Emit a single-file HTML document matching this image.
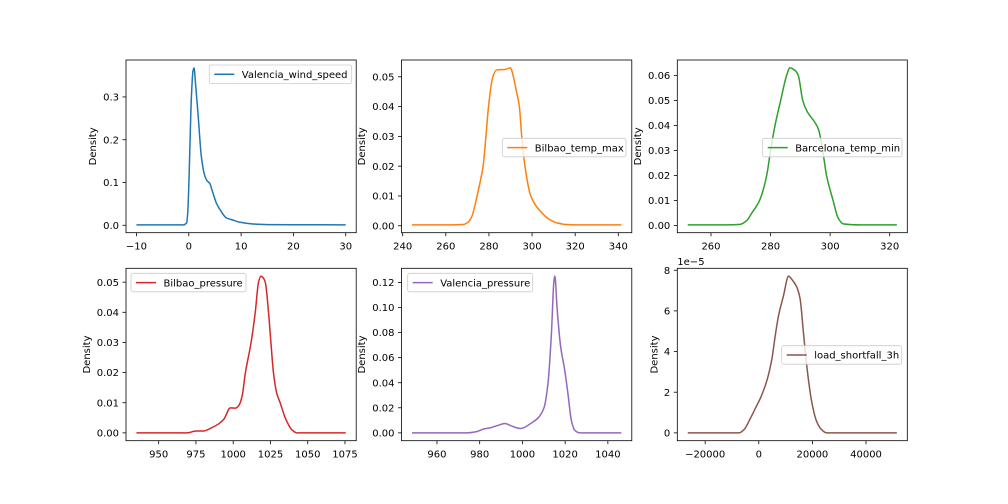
<!DOCTYPE html>
<html><head><meta charset="utf-8">
<style>
html,body{margin:0;padding:0;background:#fff;}
svg{display:block;font-family:"DejaVu Sans","Liberation Sans",sans-serif;}
</style></head>
<body>
<svg id="fig" width="1008" height="504" viewBox="0 0 1008 504" xmlns="http://www.w3.org/2000/svg"></svg>
<script>
// ---- data ----
const windX = [-10,-1,-0.4,-0.2,0,0.2,0.5,0.8,1,1.3,1.8,2.4,3,3.5,4,4.5,5.3,6,7.2,8.5,9.8,12.3,15,20,30];
const windY = [0.001,0.001,0.006,0.03,0.09,0.177,0.3,0.36,0.368,0.33,0.255,0.161,0.118,0.104,0.098,0.08,0.051,0.036,0.017,0.012,0.007,0.003,0.0015,0.0012,0.001];
const btmX = [244.3,262,268,270,272,274.5,276,277.3,278.6,279.8,281.8,283.5,285,287,289,290,291,292.5,294.1,295.2,296.7,299.4,303.7,308.3,311.4,316,320,341.4];
const btmY = [0.0003,0.0003,0.0004,0.001,0.003,0.01,0.015,0.02,0.03,0.04,0.05,0.0523,0.0524,0.0524,0.0528,0.053,0.051,0.046,0.04,0.03,0.02,0.01,0.005,0.002,0.001,0.0004,0.0003,0.0003];
const bcnX = [252.2,265,269.8,272,273.7,276.3,278.7,280,281.5,283.4,285.4,286.5,288.2,289.3,290.8,292.1,295.5,296.2,297.5,298.8,301,302.7,304.4,310,322.4];
const bcnY = [0.0003,0.0003,0.0005,0.002,0.005,0.01,0.02,0.03,0.04,0.05,0.06,0.063,0.062,0.06,0.05,0.046,0.04,0.038,0.03,0.02,0.01,0.003,0.0007,0.0003,0.0003];
const bprX = [935.1,960,969.2,975,980,984.8,990.3,993.7,998.1,1001.5,1003.7,1005.9,1008.2,1012,1014.8,1017,1018.6,1020,1021.5,1023.7,1025.3,1027,1029.3,1031.5,1034.9,1039.4,1042.7,1075.5];
const bprY = [0,0,0,0.0006,0.0006,0.0015,0.003,0.0045,0.0083,0.0082,0.009,0.012,0.02,0.03,0.04,0.05,0.052,0.0515,0.05,0.04,0.03,0.02,0.013,0.01,0.005,0.001,0,0];
const vprX = [948.3,965,974,978.6,981.7,984.8,988.7,991.8,994.2,996.5,999,1000.4,1004.3,1007.4,1010.1,1012,1013.6,1014.7,1015.2,1016.2,1017.8,1019.8,1021.4,1022.9,1024.5,1026.8,1046.3];
const vprY = [0,0,0,0.001,0.003,0.004,0.006,0.0075,0.006,0.0045,0.0035,0.004,0.008,0.012,0.02,0.04,0.08,0.12,0.125,0.1,0.07,0.05,0.03,0.01,0.002,0,0];
// load_shortfall_3h values in units of 1e-5
const loadX = [-26500,-10000,-7400,-5500,-3070,-1230,615,3080,4930,6160,7390,9240,11090,12320,14170,15400,16630,17860,19710,21560,23410,25250,35000,51500];
const loadY = [0,0,0,0.16,0.73,1.22,1.71,2.6,3.67,4.8,5.78,6.76,7.71,7.55,7.17,6.6,4.97,3.34,1.55,0.57,0.16,0,0,0];
const ticksX1 = [-10,0,10,20,30];              const ticksY1 = [0,0.1,0.2,0.3];
const labX1 = ["−10","0","10","20","30"];       const labY1 = ["0.0","0.1","0.2","0.3"];
const ticksX2 = [240,260,280,300,320,340];      const ticksY2 = [0,0.01,0.02,0.03,0.04,0.05];
const labX2 = ["240","260","280","300","320","340"]; const labY2 = ["0.00","0.01","0.02","0.03","0.04","0.05"];
const ticksX3 = [260,280,300,320];              const ticksY3 = [0,0.01,0.02,0.03,0.04,0.05,0.06];
const labX3 = ["260","280","300","320"];        const labY3 = ["0.00","0.01","0.02","0.03","0.04","0.05","0.06"];
const ticksX4 = [950,975,1000,1025,1050,1075];  const ticksY4 = [0,0.01,0.02,0.03,0.04,0.05];
const labX4 = ["950","975","1000","1025","1050","1075"]; const labY4 = ["0.00","0.01","0.02","0.03","0.04","0.05"];
const ticksX5 = [960,980,1000,1020,1040];       const ticksY5 = [0,0.02,0.04,0.06,0.08,0.10,0.12];
const labX5 = ["960","980","1000","1020","1040"]; const labY5 = ["0.00","0.02","0.04","0.06","0.08","0.10","0.12"];
const ticksX6 = [-20000,0,20000,40000];         const ticksY6 = [0,2,4,6,8];
const labX6 = ["−20000","0","20000","40000"];   const labY6 = ["0","2","4","6","8"];

const NS = "http://www.w3.org/2000/svg";
const fig = document.getElementById('fig');
function mk(tag, attrs, parent){ const e=document.createElementNS(NS,tag); for(const k in attrs) e.setAttribute(k,attrs[k]); (parent||fig).appendChild(e); return e; }

// monotone cubic (Fritsch–Carlson) path through pixel points
function monoPath(px, py){
  const n=px.length, d=[], m=new Array(n);
  for(let i=0;i<n-1;i++) d.push((py[i+1]-py[i])/(px[i+1]-px[i]));
  m[0]=d[0]; m[n-1]=d[n-2];
  for(let i=1;i<n-1;i++){
    if(d[i-1]*d[i]<=0) m[i]=0;
    else { const w1=2*(px[i+1]-px[i])+(px[i]-px[i-1]), w2=(px[i+1]-px[i])+2*(px[i]-px[i-1]);
      m[i]=(w1+w2)/(w1/d[i-1]+w2/d[i]); }
  }
  let s='M'+px[0].toFixed(2)+','+py[0].toFixed(2);
  for(let i=0;i<n-1;i++){
    const h=(px[i+1]-px[i])/3;
    s+=' C'+(px[i]+h).toFixed(2)+','+(py[i]+m[i]*h).toFixed(2)+' '+(px[i+1]-h).toFixed(2)+','+(py[i+1]-m[i+1]*h).toFixed(2)+' '+px[i+1].toFixed(2)+','+py[i+1].toFixed(2);
  }
  return s;
}

const panels = [
 {name:"valencia-wind-speed", X:windX, Y:windY, color:"#1f77b4", L:126, R:356.2, T:60, B:232.7, tx:ticksX1, ty:ticksY1, lx:labX1, ly:labY1, ylab:93.3, leg:[209.3,65,142.4], label:"Valencia_wind_speed"},
 {name:"bilbao-temp-max", X:btmX, Y:btmY, color:"#ff7f0e", L:401.5, R:631.8, T:60, B:232.7, tx:ticksX2, ty:ticksY2, lx:labX2, ly:labY2, ylab:362.3, leg:[502.3,138.3,123.7], label:"Bilbao_temp_max"},
 {name:"barcelona-temp-min", X:bcnX, Y:bcnY, color:"#2ca02c", L:677.3, R:907.3, T:60, B:232.7, tx:ticksX3, ty:ticksY3, lx:labX3, ly:labY3, ylab:638.3, leg:[762.7,138.3,139.3], label:"Barcelona_temp_min"},
 {name:"bilbao-pressure", X:bprX, Y:bprY, color:"#d62728", L:126, R:356.2, T:268.3, B:440.7, tx:ticksX4, ty:ticksY4, lx:labX4, ly:labY4, ylab:87.3, leg:[131,273.3,115], label:"Bilbao_pressure"},
 {name:"valencia-pressure", X:vprX, Y:vprY, color:"#9467bd", L:401.5, R:631.8, T:268.3, B:440.7, tx:ticksX5, ty:ticksY5, lx:labX5, ly:labY5, ylab:362.3, leg:[407.7,273.3,125], label:"Valencia_pressure"},
 {name:"load-shortfall-3h", X:loadX, Y:loadY, color:"#8c564b", L:677.3, R:907.3, T:268.3, B:440.7, tx:ticksX6, ty:ticksY6, lx:labX6, ly:labY6, ylab:655, leg:[781.7,345.7,120], label:"load_shortfall_3h", offset:"1e−5"}
];

panels.forEach(p=>{
  const g = mk('g',{});
  
  
  const xmin=Math.min(...p.X), xmax=Math.max(...p.X);
  const ymin=Math.min(...p.Y), ymax=Math.max(...p.Y);
  const dx=(xmax-xmin)*0.05, dy=(ymax-ymin)*0.05;
  const x0=xmin-dx, x1=xmax+dx, y0=ymin-dy, y1=ymax+dy;
  const sx=v=>p.L+(v-x0)/(x1-x0)*(p.R-p.L);
  const sy=v=>p.B-(v-y0)/(y1-y0)*(p.B-p.T);
  const line=mk('path',{d:monoPath(p.X.map(sx),p.Y.map(sy)),fill:'none',stroke:p.color,'stroke-width':1.5,'stroke-linejoin':'round'},g);
  
  
  const fr=mk('rect',{x:p.L,y:p.T,width:p.R-p.L,height:p.B-p.T,fill:'none',stroke:'#000','stroke-width':0.8},g);
  
  
  p.tx.forEach((t,i)=>{
    const x=sx(t);
    mk('line',{x1:x,x2:x,y1:p.B,y2:p.B+3.5,stroke:'#000','stroke-width':0.8},g);
    const tl=mk('text',{x:x,y:p.B+17,'text-anchor':'middle','font-size':10,fill:'#000'},g);
    tl.textContent=p.lx[i];
    
    
  });
  p.ty.forEach((t,i)=>{
    const y=sy(t);
    mk('line',{x1:p.L-3.5,x2:p.L,y1:y,y2:y,stroke:'#000','stroke-width':0.8},g);
    const tl=mk('text',{x:p.L-7,y:y+3.6,'text-anchor':'end','font-size':10,fill:'#000'},g);
    tl.textContent=p.ly[i];
    
    
  });
  const cy=(p.T+p.B)/2;
  const yl=mk('text',{x:p.ylab,y:cy,'text-anchor':'middle','dominant-baseline':'central','font-size':10,fill:'#000',transform:`rotate(-90 ${p.ylab} ${cy})`},g);
  yl.textContent='Density';
  
  
  if(p.offset){
    const ot=mk('text',{x:p.L,y:p.T-3.5,'font-size':10,fill:'#000'},g);
    ot.textContent=p.offset;
    
    
  }
  const [lx,ly,lw]=p.leg;
  const lg=mk('g',{},g);
  
  
  mk('rect',{x:lx,y:ly,width:lw,height:18.5,rx:2,ry:2,fill:'#fff','fill-opacity':0.8,stroke:'#ccc','stroke-width':0.8},lg);
  mk('line',{x1:lx+5,x2:lx+25,y1:ly+9.3,y2:ly+9.3,stroke:p.color,'stroke-width':1.5},lg);
  const lt=mk('text',{x:lx+32.5,y:ly+13,'font-size':10,fill:'#000'},lg);
  lt.textContent=p.label;
});
</script>
</body></html>
